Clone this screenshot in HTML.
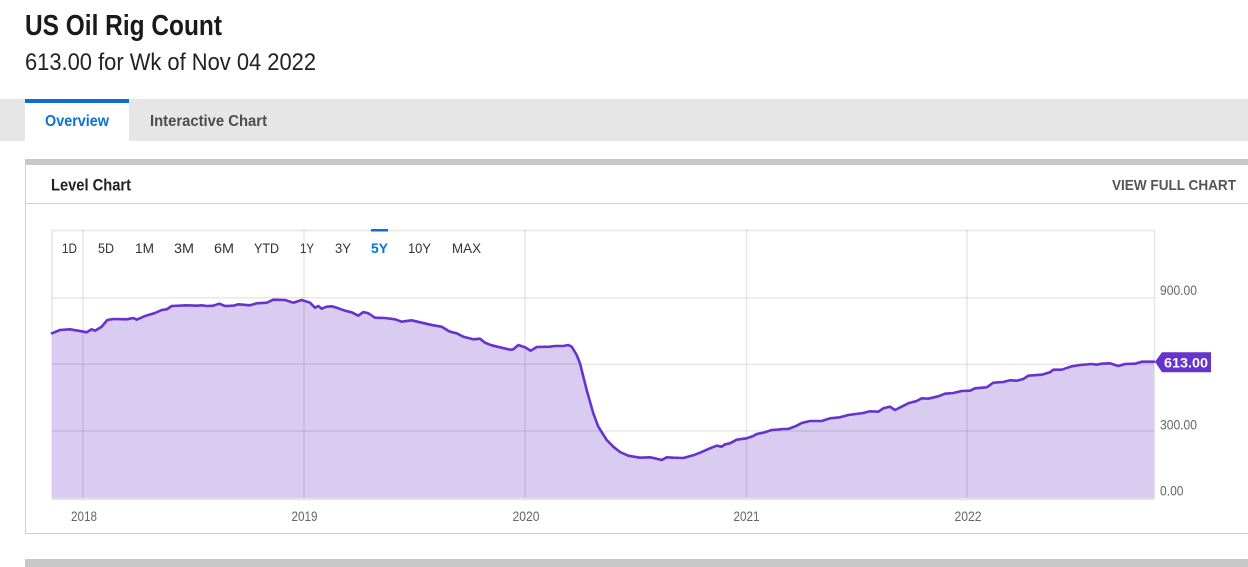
<!DOCTYPE html>
<html>
<head>
<meta charset="utf-8">
<style>
html,body{margin:0;padding:0;background:#fff;width:1248px;height:567px;overflow:hidden;}
svg{display:block;}
text{font-family:"Liberation Sans",Arial,sans-serif;}
</style>
</head>
<body>
<svg width="1248" height="567" viewBox="0 0 1248 567" xmlns="http://www.w3.org/2000/svg">
  <rect x="0" y="0" width="1248" height="567" fill="#fff"/>
  <!-- Title -->
  <text x="25" y="35" font-size="29" font-weight="bold" fill="#1a1a1a" textLength="197" lengthAdjust="spacingAndGlyphs">US Oil Rig Count</text>
  <text x="25" y="70" font-size="24" fill="#222" textLength="291" lengthAdjust="spacingAndGlyphs">613.00 for Wk of Nov 04 2022</text>

  <!-- Tabs -->
  <rect x="0" y="99" width="1248" height="42" fill="#e6e6e6"/>
  <rect x="25" y="99" width="104" height="42" fill="#fff"/>
  <rect x="25" y="99" width="104" height="4" fill="#0a6fce"/>
  <text x="45" y="126" font-size="16" font-weight="bold" fill="#0a72d1" textLength="64" lengthAdjust="spacingAndGlyphs">Overview</text>
  <text x="150" y="126" font-size="16" font-weight="bold" fill="#4d4d4d" textLength="117" lengthAdjust="spacingAndGlyphs">Interactive Chart</text>

  <!-- Panel -->
  <rect x="25" y="159" width="1223" height="6" fill="#c8c8c8"/>
  <line x1="25.5" y1="165" x2="25.5" y2="533.5" stroke="#cfcfcf" stroke-width="1"/>
  <line x1="25" y1="533.5" x2="1248" y2="533.5" stroke="#cfcfcf" stroke-width="1"/>
  <line x1="25" y1="203.5" x2="1248" y2="203.5" stroke="#d2d2d2" stroke-width="1"/>
  <text x="51" y="190.5" font-size="17" font-weight="bold" fill="#222" textLength="80" lengthAdjust="spacingAndGlyphs">Level Chart</text>
  <text x="1112" y="190" font-size="15" font-weight="bold" fill="#555" textLength="124" lengthAdjust="spacingAndGlyphs">VIEW FULL CHART</text>
  <rect x="25" y="559" width="1223" height="8" fill="#c8c8c8"/>

  <!-- Plot area border -->
  <rect x="52" y="230.5" width="1102.5" height="268" fill="none" stroke="#e6e6e6" stroke-width="1.5"/>

  <!-- Area fill -->
  <polygon fill="#dacbf1" points="52,333.3 60,330 70,329.3 81.7,331.3 86.7,332.3 91.7,329.3 95,330.7 101.7,326.7 107.3,320 113.3,319 126.7,319.3 133.3,318 136.7,319.7 145,316 155,313 161.7,310 166.7,309.3 171.7,306 186.7,305.3 196.7,305.7 201.7,305.3 206.7,306 213.3,305.7 219.3,303.7 225,306 233.3,305.7 238.3,304.3 250,305.3 256.7,303.3 266.7,302.7 273.3,299.7 285,300 293.3,302.7 301.7,300 310,302.7 315,307.7 318.3,306 321.7,308.7 326.7,306.7 331.7,306.3 338.3,308.3 345,310.7 351.7,312.3 358.3,315.7 363.3,312 368.3,313.3 375,317.7 385,318 395,319.3 401.7,321.7 411.7,320.3 420,322.3 433.3,325.3 441.7,326.7 450,331.7 456.7,333.3 463.3,336.7 473.3,339.3 480,338.7 485,342.7 491.7,345.3 500,347.3 510,349.7 513.3,349.3 518.3,345 525,347.3 530.7,350.7 536.7,347 550,346.7 555,346 563.3,346 568.3,345 571.7,346.7 576.7,355 580,363.3 586.7,390 593.3,413.3 598.3,426.7 606.7,440 613.3,446.7 620,452 628.3,455.7 640,457.7 650,457.3 656.7,458.7 661.7,460 666.7,457.3 673.3,457.7 683.3,458 693.3,455.3 700,452.7 710,448.3 716.7,445.7 721.7,446.7 725,444.3 730,443.3 736.7,439.7 746.7,438.3 753.3,436 756.7,434 763.3,432.7 771.7,430 776.7,429.7 783.3,429 788.3,429 796.7,425.7 801.7,423 810,421 821.7,421 830,418.3 840,417.3 848.3,415 863.3,413 870,411.3 878.3,411.7 883.3,408.3 890,406.7 895,410 908.3,403.3 916.7,401 921.7,398.3 928.3,398.7 938.3,396.3 945,393.7 953.3,393 961.7,391 970,390.7 975,388.3 986.7,387.3 993.3,382.7 1003.3,382 1010,380.3 1016.7,380.7 1023.3,379 1028.3,375.7 1041.7,374.7 1050,372.3 1053.3,369.7 1061.7,369.7 1071.7,366.3 1080,365 1091.7,364 1096.7,364.7 1101.7,363.7 1110,363.3 1118.3,366 1125,364 1135,363.7 1141.7,361.7 1154,361.7 1154,498 52,498"/>

  <!-- Grid -->
  <g stroke="rgba(0,0,0,0.09)" stroke-width="1.5">
    <line x1="52" y1="297.7" x2="1154" y2="297.7"/>
    <line x1="52" y1="364.3" x2="1154" y2="364.3"/>
    <line x1="52" y1="431" x2="1154" y2="431"/>
    <line x1="83" y1="230" x2="83" y2="498"/>
    <line x1="304" y1="230" x2="304" y2="498"/>
    <line x1="525" y1="230" x2="525" y2="498"/>
    <line x1="746.5" y1="230" x2="746.5" y2="498"/>
    <line x1="967" y1="230" x2="967" y2="498"/>
  </g>
  <line x1="52" y1="499" x2="1155" y2="499" stroke="#e3e3e3" stroke-width="2.5"/>

  <!-- Line -->
  <polyline fill="none" stroke="#6633cc" stroke-width="2.6" stroke-linejoin="round" stroke-linecap="round" points="52,333.3 60,330 70,329.3 81.7,331.3 86.7,332.3 91.7,329.3 95,330.7 101.7,326.7 107.3,320 113.3,319 126.7,319.3 133.3,318 136.7,319.7 145,316 155,313 161.7,310 166.7,309.3 171.7,306 186.7,305.3 196.7,305.7 201.7,305.3 206.7,306 213.3,305.7 219.3,303.7 225,306 233.3,305.7 238.3,304.3 250,305.3 256.7,303.3 266.7,302.7 273.3,299.7 285,300 293.3,302.7 301.7,300 310,302.7 315,307.7 318.3,306 321.7,308.7 326.7,306.7 331.7,306.3 338.3,308.3 345,310.7 351.7,312.3 358.3,315.7 363.3,312 368.3,313.3 375,317.7 385,318 395,319.3 401.7,321.7 411.7,320.3 420,322.3 433.3,325.3 441.7,326.7 450,331.7 456.7,333.3 463.3,336.7 473.3,339.3 480,338.7 485,342.7 491.7,345.3 500,347.3 510,349.7 513.3,349.3 518.3,345 525,347.3 530.7,350.7 536.7,347 550,346.7 555,346 563.3,346 568.3,345 571.7,346.7 576.7,355 580,363.3 586.7,390 593.3,413.3 598.3,426.7 606.7,440 613.3,446.7 620,452 628.3,455.7 640,457.7 650,457.3 656.7,458.7 661.7,460 666.7,457.3 673.3,457.7 683.3,458 693.3,455.3 700,452.7 710,448.3 716.7,445.7 721.7,446.7 725,444.3 730,443.3 736.7,439.7 746.7,438.3 753.3,436 756.7,434 763.3,432.7 771.7,430 776.7,429.7 783.3,429 788.3,429 796.7,425.7 801.7,423 810,421 821.7,421 830,418.3 840,417.3 848.3,415 863.3,413 870,411.3 878.3,411.7 883.3,408.3 890,406.7 895,410 908.3,403.3 916.7,401 921.7,398.3 928.3,398.7 938.3,396.3 945,393.7 953.3,393 961.7,391 970,390.7 975,388.3 986.7,387.3 993.3,382.7 1003.3,382 1010,380.3 1016.7,380.7 1023.3,379 1028.3,375.7 1041.7,374.7 1050,372.3 1053.3,369.7 1061.7,369.7 1071.7,366.3 1080,365 1091.7,364 1096.7,364.7 1101.7,363.7 1110,363.3 1118.3,366 1125,364 1135,363.7 1141.7,361.7 1154,361.7"/>

  <!-- Range buttons -->
  <g font-size="14" fill="#333">
    <text x="62" y="253" textLength="15" lengthAdjust="spacingAndGlyphs">1D</text>
    <text x="98" y="253" textLength="16" lengthAdjust="spacingAndGlyphs">5D</text>
    <text x="135" y="253" textLength="19" lengthAdjust="spacingAndGlyphs">1M</text>
    <text x="174" y="253" textLength="20" lengthAdjust="spacingAndGlyphs">3M</text>
    <text x="214" y="253" textLength="20" lengthAdjust="spacingAndGlyphs">6M</text>
    <text x="254" y="253" textLength="25" lengthAdjust="spacingAndGlyphs">YTD</text>
    <text x="300" y="253" textLength="14" lengthAdjust="spacingAndGlyphs">1Y</text>
    <text x="335" y="253" textLength="16" lengthAdjust="spacingAndGlyphs">3Y</text>
    <text x="408" y="253" textLength="23" lengthAdjust="spacingAndGlyphs">10Y</text>
    <text x="452" y="253" textLength="29" lengthAdjust="spacingAndGlyphs">MAX</text>
  </g>
  <rect x="371" y="229" width="17" height="2.5" fill="#0a6fce"/>
  <text x="371" y="253" font-size="14" font-weight="bold" fill="#0a72d1" textLength="17" lengthAdjust="spacingAndGlyphs">5Y</text>

  <!-- Y labels -->
  <g font-size="14" fill="#666">
    <text x="1160" y="295" textLength="37" lengthAdjust="spacingAndGlyphs">900.00</text>
    <text x="1160" y="429.3" textLength="37" lengthAdjust="spacingAndGlyphs">300.00</text>
    <text x="1160" y="495.7" textLength="23.5" lengthAdjust="spacingAndGlyphs">0.00</text>
  </g>

  <!-- Last value label -->
  <polygon points="1155,361.7 1162,352.3 1211,352.3 1211,372.3 1162,372.3" fill="#6633cc"/>
  <text x="1164" y="367.5" font-size="14" font-weight="bold" fill="#fff" textLength="44" lengthAdjust="spacingAndGlyphs">613.00</text>

  <!-- X labels -->
  <g font-size="14" fill="#666" text-anchor="middle">
    <text x="84" y="521" textLength="26" lengthAdjust="spacingAndGlyphs">2018</text>
    <text x="304.5" y="521" textLength="26" lengthAdjust="spacingAndGlyphs">2019</text>
    <text x="526" y="521" textLength="27" lengthAdjust="spacingAndGlyphs">2020</text>
    <text x="746.5" y="521" textLength="26" lengthAdjust="spacingAndGlyphs">2021</text>
    <text x="968" y="521" textLength="27" lengthAdjust="spacingAndGlyphs">2022</text>
  </g>
</svg>
</body>
</html>
